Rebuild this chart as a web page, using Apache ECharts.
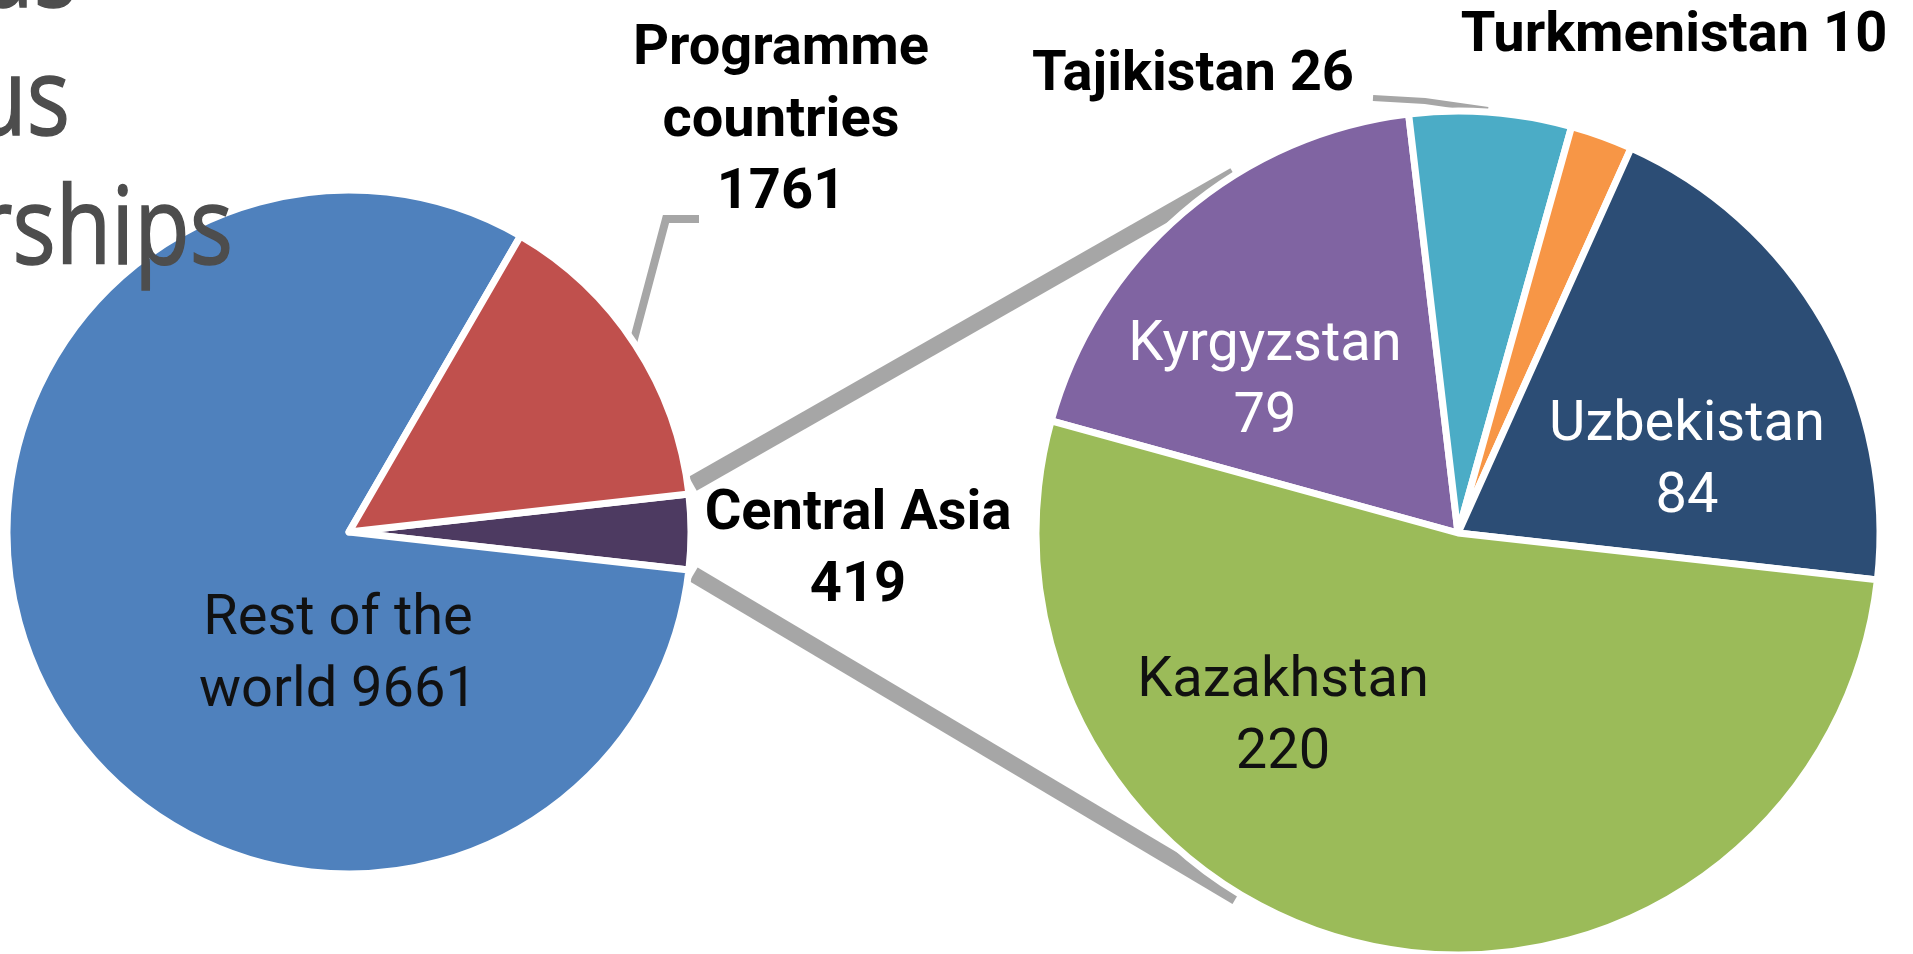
<!DOCTYPE html>
<html>
<head>
    <meta charset="utf-8"/>
    <title>Central Asia - pie of pie</title>
    <style>
        html, body { margin: 0; padding: 0; background: #fff; }
        #main { width: 1913px; height: 954px; }
    </style>
</head>
<body>
<div id="main"></div>
<script src="https://cdn.jsdelivr.net/npm/echarts@6/dist/echarts.min.js"></script>
<script type="text/javascript">
    // first pie: all participants, Central Asia is split out
    var mainNames = ['Central Asia', 'Rest of the world', 'Programme countries'];
    var mainValues = [419, 9661, 1761];
    var mainLabels = ['Central Asia\n419', 'Rest of the\nworld 9661', 'Programme\ncountries\n1761'];

    // second pie: Central Asia by country
    var caNames = ['Kyrgyzstan', 'Tajikistan', 'Turkmenistan', 'Uzbekistan', 'Kazakhstan'];
    var caValues = [79, 26, 10, 84, 220];
    var caLabels = ['Kyrgyzstan\n79', 'Tajikistan 26', 'Turkmenistan 10', 'Uzbekistan\n84', 'Kazakhstan\n220'];

    // slide text cut off at the left edge
    var slideText = ['us', 'us', 'rships'];

    var mainColors = ['#4D3A61', '#4F81BD', '#C0504D'];
    var caColors = ['#8064A2', '#4BACC6', '#F79646', '#2C4D75', '#9BBB59'];

    var leftCenter = [349, 532], leftR = 342;
    var rightCenter = [1458, 533], rightR = 422;

    var total = mainValues.reduce(function (a, b) { return a + b; }, 0);
    // the split-out slice is centred on the horizontal axis
    var leftStart = 180 * mainValues[0] / total;

    var boldLabel = {color: '#000', fontWeight: 'bold', fontFamily: 'Roboto', fontSize: 56, lineHeight: 72};
    var plainLabel = {color: '#111', fontWeight: 'normal', fontFamily: 'Roboto', fontSize: 56, lineHeight: 72};
    var whiteLabel = {color: '#fff', fontWeight: 'normal', fontFamily: 'Roboto', fontSize: 56, lineHeight: 72};

    var mainLabelStyle = [boldLabel, plainLabel, boldLabel];
    var caLabelStyle = [whiteLabel, boldLabel, boldLabel, whiteLabel, plainLabel];

    var mainLabelPos = [
        {x: 858, y: 551},
        {x: 338, y: 656},
        {x: 781, y: 122}
    ];
    var caLabelPos = [
        {x: 1265, y: 382},
        {x: 1193, y: 76},
        {x: 1674, y: 37},
        {x: 1687, y: 462},
        {x: 1283, y: 718}
    ];
    // leader lines of the two outside labels
    var leaders = [
        {points: [[633, 343], [666, 219], [699, 219]], width: 8},
        {points: [[1488, 110], [1425, 101], [1373, 98]], width: 6}
    ];

    function buildData(names, values, colors, styles) {
        return names.map(function (n, i) {
            return {
                name: n,
                value: values[i],
                itemStyle: {color: colors[i]},
                label: styles[i]
            };
        });
    }

    function polar(c, r, deg) {
        var a = deg * Math.PI / 180;
        return [c[0] + r * Math.cos(a), c[1] - r * Math.sin(a)];
    }

    // series lines joining the split slice to the second pie
    var topA = polar(leftCenter, leftR * 1.015, 8);
    var topB = polar(rightCenter, rightR, 122);
    var botA = polar(leftCenter, leftR * 1.015, -7);
    var botB = polar(rightCenter, rightR * 1.01, -121.3);

    var graphics = [
        {type: 'line', z: 0, shape: {x1: topA[0], y1: topA[1], x2: topB[0], y2: topB[1]},
            style: {stroke: '#A6A6A6', lineWidth: 16}},
        {type: 'line', z: 0, shape: {x1: botA[0], y1: botA[1], x2: botB[0], y2: botB[1]},
            style: {stroke: '#A6A6A6', lineWidth: 16}}
    ];
    leaders.forEach(function (l) {
        graphics.push({type: 'polyline', z: 0, shape: {points: l.points},
            style: {stroke: '#A6A6A6', lineWidth: l.width, fill: null}});
    });
    var slideRight = [77, 70, 233];
    var slideY = [-24, 104, 233];
    slideText.forEach(function (t, i) {
        graphics.push({
            type: 'text', z: 100, zlevel: 1, x: slideRight[i], y: slideY[i], scaleX: 0.84,
            style: {
                text: t, fill: '#4D4D4D', align: 'right', verticalAlign: 'middle',
                stroke: '#4D4D4D', lineWidth: 1.5,
                font: '108px "Open Sans"'
            }
        });
    });

    var option = {
        animation: false,
        backgroundColor: '#fff',
        graphic: graphics,
        series: [
            {
                name: 'All',
                type: 'pie',
                center: leftCenter,
                radius: leftR,
                startAngle: leftStart,
                clockwise: true,
                avoidLabelOverlap: false,
                itemStyle: {borderColor: '#fff', borderWidth: 7},
                label: {
                    show: true,
                    position: 'outside',
                    formatter: function (p) { return mainLabels[p.dataIndex]; }
                },
                labelLine: {show: false},
                labelLayout: function (p) {
                    var o = mainLabelPos[p.dataIndex];
                    return {x: o.x, y: o.y, align: 'center', verticalAlign: 'middle'};
                },
                data: buildData(mainNames, mainValues, mainColors, mainLabelStyle)
            },
            {
                name: 'Central Asia',
                type: 'pie',
                center: rightCenter,
                radius: rightR,
                startAngle: 164.6,
                clockwise: true,
                avoidLabelOverlap: false,
                itemStyle: {borderColor: '#fff', borderWidth: 7},
                label: {
                    show: true,
                    position: 'outside',
                    formatter: function (p) { return caLabels[p.dataIndex]; }
                },
                labelLine: {show: false},
                labelLayout: function (p) {
                    var o = caLabelPos[p.dataIndex];
                    return {x: o.x, y: o.y, align: 'center', verticalAlign: 'middle'};
                },
                data: buildData(caNames, caValues, caColors, caLabelStyle)
            }
        ]
    };

    var chart = echarts.init(document.getElementById('main'));
    chart.setOption(option);
</script>
</body>
</html>
